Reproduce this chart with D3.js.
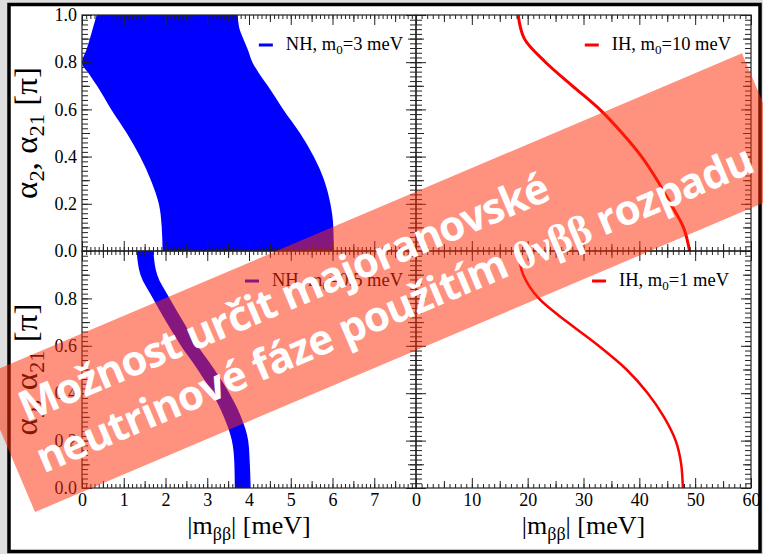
<!DOCTYPE html>
<html>
<head>
<meta charset="utf-8">
<script src="https://cdn.jsdelivr.net/npm/d3@7"></script>
<style>
  body { margin: 0; background: #dedede; }
  svg { display: block; }
</style>
</head>
<body>
<svg width="763" height="554"></svg>
<script>
// phase values (in units of pi) used as the vertical coordinate
const alphaNH3 = [1.0, 0.95, 0.9, 0.85, 0.8, 0.75, 0.7, 0.6, 0.5, 0.4, 0.3, 0.2, 0.1, 0.0];
// NH, m0 = 3 meV : allowed band of |m_bb| (meV)
const nh3Low  = [0.35, 0.27, 0.19, 0.10, 0.0, 0.17, 0.36, 0.70, 1.07, 1.39, 1.65, 1.84, 1.91, 1.93];
const nh3High = [3.73, 3.76, 3.86, 3.98, 4.08, 4.25, 4.45, 4.82, 5.22, 5.55, 5.80, 5.95, 6.02, 6.03];

const alphaSteps = [1.0, 0.9, 0.8, 0.7, 0.6, 0.5, 0.4, 0.3, 0.2, 0.1, 0.0];
// NH, m0 = 0.5 meV band
const nh05Low  = [1.31, 1.40, 1.70, 2.02, 2.37, 2.77, 3.12, 3.40, 3.59, 3.65, 3.66];
const nh05High = [1.71, 1.80, 2.10, 2.43, 2.77, 3.17, 3.53, 3.81, 3.98, 4.02, 4.04];
// IH curves
const ih10 = [18.3, 19.4, 23.2, 28.0, 32.9, 36.9, 40.4, 43.2, 45.6, 47.9, 49.0];
const ih1  = [18.3, 19.2, 22.0, 27.1, 32.7, 37.7, 41.5, 44.4, 46.5, 47.5, 47.8];

const xTicksNH = [0, 1, 2, 3, 4, 5, 6, 7, 8];
const xTicksIH = [0, 10, 20, 30, 40, 50, 60];
const yTicks = [0, 0.2, 0.4, 0.6, 0.8, 1.0];

const legendNH3  = ["NH, m", "0", "=3 meV"];
const legendIH10 = ["IH, m", "0", "=10 meV"];
const legendNH05 = ["NH, m", "0", "=0.5 meV"];
const legendIH1  = ["IH, m", "0", "=1 meV"];

const bannerLine1 = "Možnost určit majoranovské";
const bannerLine2 = ["neutrinové fáze použitím ", "0νββ", " rozpadu"];

const serif = '"Liberation Serif", "Times New Roman", serif';
const sans = '"Open Sans", Lato, sans-serif';

const svg = d3.select("svg");
svg.append("rect").attr("width", 763).attr("height", 554).attr("fill", "#dedede");
svg.append("rect")
    .attr("x", 9).attr("y", 4.5).attr("width", 751).attr("height", 547)
    .attr("fill", "#fff").attr("stroke", "#000").attr("stroke-width", 3.5);

// panel geometry
const X0 = 82, XM = 416, X1 = 751, Y0 = 15, YM = 251, Y1 = 488;

const xNH = d3.scaleLinear().domain([0, 8]).range([X0, XM]);
const xIH = d3.scaleLinear().domain([0, 60]).range([XM, X1]);
const yTop = d3.scaleLinear().domain([0, 1]).range([YM, Y0]);
const yBot = d3.scaleLinear().domain([0, 1]).range([Y1, YM]);

const g = svg.append("g");

// blue bands
g.append("path")
    .datum(alphaNH3.map((a, i) => ({ a: a, lo: nh3Low[i], hi: nh3High[i] })))
    .attr("fill", "#0000ff")
    .attr("d", d3.area()
        .y(d => yTop(d.a)).x0(d => xNH(d.lo)).x1(d => xNH(d.hi))
        .curve(d3.curveMonotoneY));

g.append("path")
    .datum(alphaSteps.map((a, i) => ({ a: a, lo: nh05Low[i], hi: nh05High[i] })))
    .attr("fill", "#0000ff")
    .attr("d", d3.area()
        .y(d => yBot(d.a)).x0(d => xNH(d.lo)).x1(d => xNH(d.hi))
        .curve(d3.curveMonotoneY));

// red curves
g.append("path")
    .datum(alphaSteps.map((a, i) => ({ a: a, m: ih10[i] })))
    .attr("fill", "none").attr("stroke", "#ff0000").attr("stroke-width", 3)
    .attr("d", d3.line().x(d => xIH(d.m)).y(d => yTop(d.a)).curve(d3.curveMonotoneY));

g.append("path")
    .datum(alphaSteps.map((a, i) => ({ a: a, m: ih1[i] })))
    .attr("fill", "none").attr("stroke", "#ff0000").attr("stroke-width", 2.5)
    .attr("d", d3.line().x(d => xIH(d.m)).y(d => yBot(d.a)).curve(d3.curveMonotoneY));

// ticks on every side, pointing inward
function ticks(axisFn, scale, values, size, translate, fmt) {
    const ax = axisFn(scale).tickValues(values).tickSize(-size).tickSizeOuter(0).tickPadding(5)
        .tickFormat(fmt || (() => ""));
    const a = g.append("g").attr("transform", translate).call(ax);
    a.select(".domain").remove();
    a.attr("font-family", serif).attr("font-size", 18);
    a.selectAll("line").attr("stroke", "#222").attr("stroke-width", 1);
    a.selectAll("text").attr("fill", "#000");
    return a;
}

const xMinorNH = d3.range(0, 81).map(i => i / 10);
const xMidNH = d3.range(0, 8).map(i => i + 0.5);
const xMinorIH = d3.range(0, 61);
const xMidIH = d3.range(0, 6).map(i => i * 10 + 5);
const yMinor = d3.range(0, 51).map(i => i / 50);
const yMid = d3.range(0, 5).map(i => i / 5 + 0.1);

[[xNH, xMinorNH, xMidNH, xTicksNH], [xIH, xMinorIH, xMidIH, xTicksIH]].forEach(([sx, minor, mid, major], col) => {
    [[Y0, YM], [YM, Y1]].forEach(([top, bottom], row) => {
        ticks(d3.axisTop, sx, minor, 4, `translate(0,${top})`);
        ticks(d3.axisTop, sx, mid, 7, `translate(0,${top})`);
        ticks(d3.axisTop, sx, major, 10, `translate(0,${top})`);
        ticks(d3.axisBottom, sx, minor, 4, `translate(0,${bottom})`);
        ticks(d3.axisBottom, sx, mid, 7, `translate(0,${bottom})`);
        ticks(d3.axisBottom, sx, major, 10, `translate(0,${bottom})`,
            row === 1 ? (d => (col === 0 && d === 8 ? "" : d)) : null);
    });
});

[[yTop, 0], [yBot, 1]].forEach(([sy, row]) => {
    [[X0, XM], [XM, X1]].forEach(([left, right], col) => {
        ticks(d3.axisLeft, sy, yMinor, 6, `translate(${left},0)`);
        ticks(d3.axisLeft, sy, yMid, 8, `translate(${left},0)`);
        ticks(d3.axisLeft, sy, yTicks, 10, `translate(${left},0)`,
            col === 0 ? (d => (row === 1 && d === 1 ? "" : d3.format(".1f")(d))) : null);
        ticks(d3.axisRight, sy, yMinor, 6, `translate(${right},0)`);
        ticks(d3.axisRight, sy, yMid, 8, `translate(${right},0)`);
        ticks(d3.axisRight, sy, yTicks, 10, `translate(${right},0)`);
    });
});

// panel frames
[[X0, Y0], [XM, Y0], [X0, YM], [XM, YM]].forEach(([px, py]) => {
    g.append("rect").attr("x", px).attr("y", py)
        .attr("width", (px === X0 ? XM - X0 : X1 - XM))
        .attr("height", (py === Y0 ? YM - Y0 : Y1 - YM))
        .attr("fill", "none").attr("stroke", "#222").attr("stroke-width", 1.2);
});

// axis titles
[[X0, XM], [XM, X1]].forEach(([a, b]) => {
    const t = g.append("text")
        .attr("x", (a + b) / 2).attr("y", 534)
        .attr("text-anchor", "middle")
        .attr("font-family", serif).attr("font-size", 26);
    t.append("tspan").text("|m");
    t.append("tspan").attr("font-size", 18).attr("dy", 6).text("ββ");
    t.append("tspan").attr("dy", -6).text("| [meV]");
});

[[Y0, YM], [YM, Y1]].forEach(([a, b]) => {
    const t = g.append("text")
        .attr("transform", `translate(37,${(a + b) / 2}) rotate(-90)`)
        .attr("text-anchor", "middle")
        .attr("font-family", serif).attr("font-size", 31)
        .attr("textLength", 132).attr("lengthAdjust", "spacingAndGlyphs");
    t.append("tspan").text("α");
    t.append("tspan").attr("font-size", 21).attr("dy", 7).text("2");
    t.append("tspan").attr("dy", -7).text(", α");
    t.append("tspan").attr("font-size", 21).attr("dy", 7).text("21");
    t.append("tspan").attr("dy", -7).text(" [π]");
});

// legends
function legend(parts, color, xEnd, yBase) {
    const t = g.append("text")
        .attr("x", xEnd).attr("y", yBase)
        .attr("text-anchor", "end")
        .attr("font-family", serif).attr("font-size", 18.5);
    t.append("tspan").text(parts[0]);
    t.append("tspan").attr("font-size", 13).attr("dy", 4).text(parts[1]);
    t.append("tspan").attr("dy", -4).text(parts[2]);
    const w = t.node().getComputedTextLength();
    g.append("line")
        .attr("x1", xEnd - w - 27).attr("x2", xEnd - w - 13)
        .attr("y1", yBase - 5).attr("y2", yBase - 5)
        .attr("stroke", color).attr("stroke-width", 3);
}
legend(legendNH3, "#0000ff", 403, 50);
legend(legendIH10, "#ff0000", 731, 50);
legend(legendNH05, "#0000ff", 403, 286);
legend(legendIH1, "#ff0000", 729, 286);

// banner across the figure
const banner = svg.append("g").attr("transform", "translate(388.5,282.7) rotate(-23)");
banner.append("rect")
    .attr("x", -415).attr("y", -73).attr("width", 830).attr("height", 146)
    .attr("fill", "rgb(255,45,10)").attr("fill-opacity", 0.52);

banner.append("text")
    .attr("x", -388).attr("y", -13)
    .attr("font-family", sans).attr("font-weight", 700)
    .attr("font-size", 42).attr("fill", "#fff")
    .attr("textLength", 572).attr("lengthAdjust", "spacing")
    .text(bannerLine1);

const l2 = banner.append("text")
    .attr("x", -392).attr("y", 41)
    .attr("font-family", sans).attr("font-weight", 700)
    .attr("font-size", 42).attr("fill", "#fff")
    .attr("textLength", 775).attr("lengthAdjust", "spacing");
l2.append("tspan").text(bannerLine2[0]);
l2.append("tspan").attr("font-family", serif).attr("font-weight", 700).text(bannerLine2[1]);
l2.append("tspan").text(bannerLine2[2]);
</script>
</body>
</html>
